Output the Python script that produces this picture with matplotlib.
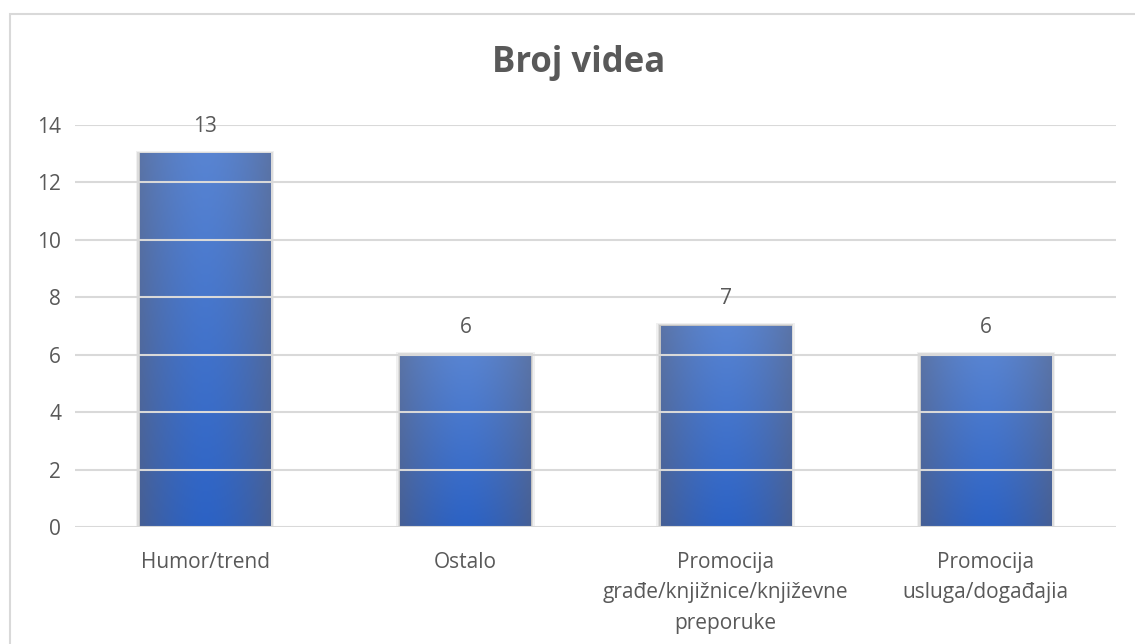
import matplotlib.pyplot as plt
import matplotlib.patches as mpatches
import numpy as np

kategorije = ["Humor/trend", "Ostalo",
              "Promocija\ngrađe/knjižnice/književne\npreporuke",
              "Promocija\nusluga/događajia"]
broj_videa = [13, 6, 7, 6]
y_oznake = [0, 2, 4, 6, 8, 10, 12, 14]

plt.rcParams['font.family'] = ['Open Sans', 'DejaVu Sans']
SIVA = '#595959'

fig = plt.figure(figsize=(11.35, 6.44), dpi=100)
# okvir grafa
fig.add_artist(mpatches.Rectangle((10 / 1135, -0.1), 1.2, 1 - 14 / 644 + 0.1,
                                  transform=fig.transFigure, fill=False,
                                  edgecolor='#d9d9d9', linewidth=1.5))
ax = fig.add_axes([75 / 1135, 1 - 527 / 644, (1116 - 75) / 1135, (527 - 125) / 644])

# gradijent za stupce
rubni_gore = np.array([0x5a, 0x74, 0xa8]) / 255
rubni_dolje = np.array([0x45, 0x5f, 0x96]) / 255
sredina_gore = np.array([0x58, 0x84, 0xd2]) / 255
sredina_dolje = np.array([0x2c, 0x62, 0xc4]) / 255
nx, ny = 60, 60
t = np.linspace(-1, 1, nx)
f = 1 - np.abs(t) ** 1.6
v = np.linspace(0, 1, ny)[:, None, None]  # 0 = gore
rub = rubni_gore + (rubni_dolje - rubni_gore) * v
sred = sredina_gore + (sredina_dolje - sredina_gore) * v
grad = rub + (sred - rub) * f[None, :, None]

sirina = 0.5
for i, h in enumerate(broj_videa):
    # meka sjena oko stupca
    for k, a in zip([0.016, 0.01, 0.005], [0.07, 0.10, 0.15]):
        ax.add_patch(mpatches.Rectangle((i - sirina / 2 - k, 0), sirina + 2 * k, h + k * 6,
                                        facecolor='#303030', alpha=a, edgecolor='none', zorder=0.5))
    ax.imshow(grad, extent=[i - sirina / 2, i + sirina / 2, 0, h], aspect='auto',
              interpolation='bilinear', zorder=1)
    ax.annotate(str(h), (i, h), xytext=(0, 12), textcoords='offset points',
                ha='center', va='bottom', fontsize=15, color=SIVA)

ax.set_xlim(-0.5, 3.5)
ax.set_ylim(0, 14)
ax.set_yticks(y_oznake)
ax.set_xticks(range(len(kategorije)))
ax.set_xticklabels(kategorije, linespacing=1.58)
ax.tick_params(axis='both', length=0, labelsize=15, colors=SIVA)
ax.tick_params(axis='x', pad=18)
ax.tick_params(axis='y', pad=10)
ax.set_axisbelow(False)
ax.grid(axis='y', color='#d9d9d9', linewidth=1.5, zorder=3)
for s in ax.spines.values():
    s.set_visible(False)

fig.text(579 / 1135, 1 - 63 / 644, "Broj videa", ha='center', va='center',
         fontsize=25, fontweight='bold', color=SIVA)

fig.savefig('out.png', dpi=100)
